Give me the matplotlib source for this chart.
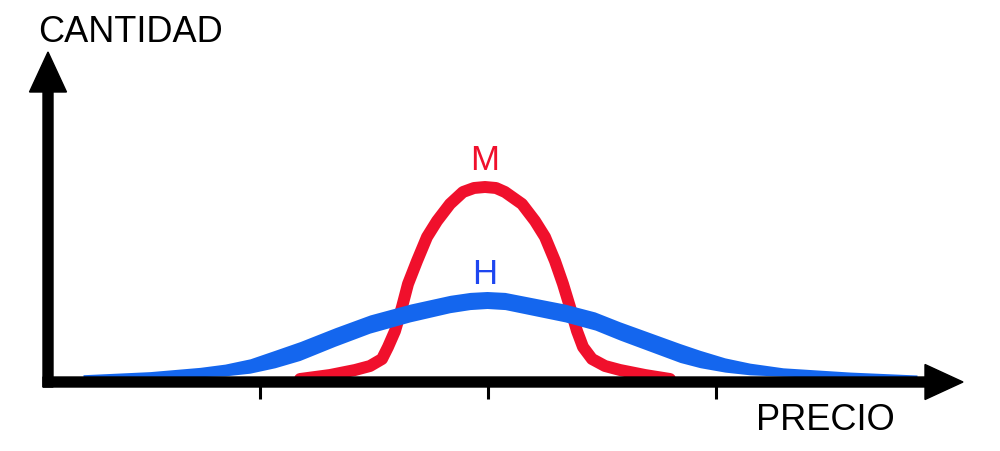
import numpy as np
import matplotlib.pyplot as plt

# --- datos (precio en px horizontales, cantidad sobre el eje) ---
precio_m = [300, 330, 355, 370, 382, 388, 395, 402, 408, 417, 427, 437, 450, 463, 474,
            485, 496, 505, 522, 535, 545, 555, 563, 570, 577, 583, 592, 605, 620, 645, 670]
cantidad_m = [3, 7, 12, 16, 23, 35, 51, 75, 98, 121, 145, 161, 178, 190, 194,
              195, 194, 190, 178, 161, 145, 121, 98, 75, 51, 35, 23, 16, 12, 7, 3]

precio_h = [83, 150, 200, 225, 250, 275, 300, 335, 370, 410, 450, 470, 487, 505, 525,
            565, 595, 620, 650, 680, 700, 725, 750, 783, 850, 917]
cantidad_h = [5, 7, 10, 12, 16, 23, 31, 45, 58, 69, 78, 81, 82, 81, 77,
              69, 61, 51, 40, 29, 23, 17, 13, 10, 7, 5]

marcas_x = [260, 488, 716]

rojo = '#F0102C'
azul = '#1466EE'

plt.rcParams['font.family'] = ['Liberation Sans', 'DejaVu Sans']

fig = plt.figure(figsize=(10, 4.52), dpi=100)
ax = fig.add_axes([0, 0, 1, 1])
ax.set_xlim(0, 1000)
ax.set_ylim(-69, 383)
ax.axis('off')

# curva M
ax.plot(precio_m, cantidad_m, color=rojo, lw=8.6,
        solid_joinstyle='round', solid_capstyle='round', zorder=3)

# curva H, trazo mas grueso en el centro
xh = np.array(precio_h, dtype=float)
yh = np.array(cantidad_h, dtype=float)
medio = np.interp(np.abs(xh - 487), [0, 200, 240, 300, 420], [8.5, 9.5, 7, 4, 2])
ax.fill_between(xh, yh - medio, yh + medio, color=azul, lw=0, zorder=4)

# ejes con flechas
ax.arrow(48, -5, 0, 335, width=10, head_width=37, head_length=40,
         length_includes_head=True, color='black', zorder=5)
ax.arrow(43, 0, 920, 0, width=10, head_width=35, head_length=38,
         length_includes_head=True, color='black', zorder=5)
ax.vlines(marcas_x, -17, -4, color='black', lw=2.2, zorder=5)

ax.text(38, 350, 'CANTIDAD', fontsize=26, va='center', ha='left')
ax.text(756, -38, 'PRECIO', fontsize=26, va='center', ha='left')
ax.text(485, 223, 'M', fontsize=25, color=rojo, va='center', ha='center')
ax.text(485, 108, 'H', fontsize=25, color='#1E46F0', va='center', ha='center')

fig.savefig('out.png', dpi=100)
